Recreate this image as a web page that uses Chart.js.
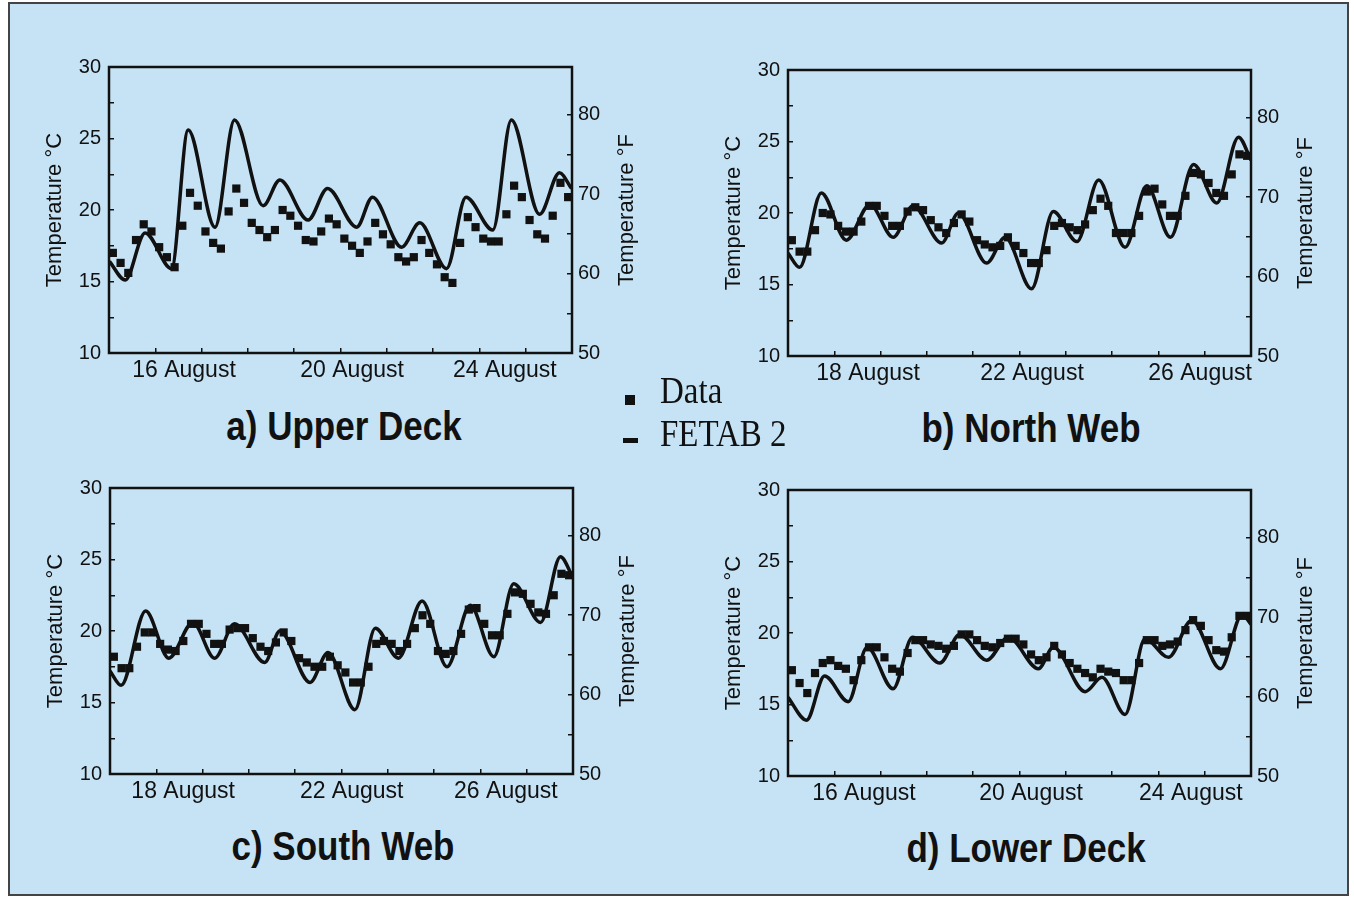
<!DOCTYPE html>
<html>
<head>
<meta charset="utf-8">
<title>FETAB 2 temperatures</title>
<script src="https://cdn.jsdelivr.net/npm/chart.js@4.4.1/dist/chart.umd.min.js"></script>
<style>
  body { margin: 0; width: 1354px; height: 900px; overflow: hidden; background: #fff;
         font-family: "Liberation Sans", Arial, sans-serif; }
  #frame { position: absolute; left: 8px; top: 2px; width: 1337px; height: 890px;
           background: #c6e3f5; border: 2px solid #444; }
  canvas { position: absolute; }
  .title { position: absolute; font-weight: bold; font-size: 35px; line-height: 40px;
           color: #111; white-space: nowrap; transform-origin: 50% 80%;
           transform: translateX(-50%) scaleY(1.18); }
  .leg { position: absolute; font-family: "Liberation Serif", "Times New Roman", serif;
         font-size: 33px; line-height: 34px; color: #111; white-space: nowrap;
         transform-origin: 0 80%; transform: scaleY(1.15); }
  .mark { position: absolute; background: #111; }
</style>
</head>
<body>
<div id="frame"></div>

<canvas id="upper" width="640" height="360" style="left:20px;top:40px"></canvas>
<canvas id="north" width="640" height="360" style="left:699px;top:43px"></canvas>
<canvas id="south" width="640" height="360" style="left:21px;top:461px"></canvas>
<canvas id="lower" width="640" height="360" style="left:699px;top:463px"></canvas>

<div class="title" style="left:344px;top:408px">a) Upper Deck</div>
<div class="title" style="left:1031px;top:410px">b) North Web</div>
<div class="title" style="left:343px;top:828px">c) South Web</div>
<div class="title" style="left:1026px;top:830px">d) Lower Deck</div>

<div class="mark" style="left:625px;top:395px;width:10px;height:10px"></div>
<div class="leg" style="left:660px;top:375px">Data</div>
<div class="mark" style="left:623px;top:438px;width:15px;height:5px"></div>
<div class="leg" style="left:660px;top:418px">FETAB 2</div>

<script>
// measured temperatures (deg C), one reading every 4 hours
var upperData = [17.0,16.3,15.6,17.9,19.0,18.5,17.4,16.7,16.0,18.9,21.2,20.3,18.5,17.7,17.3,19.9,21.5,20.5,19.1,18.6,
  18.1,18.6,20.0,19.6,18.9,17.9,17.8,18.5,19.4,19.0,18.0,17.5,17.0,17.8,19.1,18.3,17.6,16.7,16.4,16.7,
  17.9,17.0,16.2,15.3,14.9,17.7,19.5,18.8,18.0,17.8,17.8,19.7,21.7,20.9,19.3,18.3,18.0,19.6,21.9,20.9];
var northData = [18.1,17.3,17.3,18.8,20.0,19.9,19.1,18.7,18.7,19.4,20.5,20.5,19.8,19.1,19.1,20.1,20.4,20.2,19.5,19.0,
  18.6,19.3,19.9,19.4,18.1,17.8,17.6,17.7,18.3,17.7,17.2,16.5,16.5,17.4,19.1,19.3,19.0,18.8,19.2,20.2,
  21.0,20.5,18.6,18.6,18.6,19.8,21.5,21.7,20.6,19.8,19.8,21.2,22.8,22.7,22.1,21.4,21.2,22.7,24.1,24.0];
var southData = [18.2,17.4,17.4,18.9,19.9,19.9,19.1,18.7,18.6,19.3,20.5,20.5,19.8,19.1,19.1,20.1,20.2,20.2,19.5,18.9,
  18.6,19.2,19.9,19.3,18.1,17.8,17.5,17.5,18.2,17.6,17.1,16.4,16.4,17.5,19.1,19.3,19.1,18.6,19.1,20.2,
  21.1,20.5,18.6,18.4,18.6,19.8,21.5,21.6,20.5,19.7,19.7,21.2,22.7,22.6,21.9,21.3,21.2,22.5,24.0,23.9];
var lowerData = [17.4,16.5,15.8,17.2,17.9,18.1,17.7,17.5,16.7,18.1,19.0,19.0,18.3,17.5,17.3,18.6,19.5,19.5,19.2,19.1,
  18.9,19.1,19.9,19.9,19.5,19.1,19.0,19.3,19.6,19.6,19.2,18.5,18.1,18.3,19.1,18.5,17.9,17.5,17.2,16.9,
  17.5,17.3,17.2,16.7,16.7,17.9,19.5,19.5,19.1,19.2,19.4,20.2,20.9,20.5,19.5,18.8,18.7,19.7,21.2,21.2];

// FETAB 2 model curve: day of August, deg C
var upperFetabDays  = [15.01,15.35,15.78,16.35,16.71,17.29,17.71,18.33,18.69,19.30,19.72,20.35,20.69,21.32,21.71,22.29,22.71,23.29,23.69,24.30,24.73,24.99];
var upperFetabTemps = [16.4,15.1,18.4,15.9,25.6,18.8,26.3,20.3,22.1,19.3,21.5,18.8,20.9,17.4,19.1,15.9,20.9,18.6,26.3,19.7,22.6,21.5];
var northFetabDays  = [17.0,17.25,17.72,18.26,18.77,19.27,19.70,20.32,20.68,21.29,21.69,22.26,22.73,23.24,23.71,24.28,24.75,25.26,25.76,26.26,26.73,27.0];
var northFetabTemps = [17.2,16.2,21.4,18.1,20.6,18.3,20.5,17.9,20.0,16.5,18.3,14.7,20.1,18.0,22.3,17.6,21.9,18.3,23.4,20.7,25.3,23.7];
var southFetabDays  = [17.0,17.24,17.77,18.27,18.79,19.26,19.69,20.34,20.67,21.32,21.71,22.29,22.73,23.23,23.74,24.28,24.78,25.29,25.72,26.30,26.73,26.99];
var southFetabTemps = [17.2,16.2,21.4,18.1,20.6,18.1,20.5,17.8,20.0,16.4,18.5,14.5,20.2,18.1,22.1,17.5,21.8,18.2,23.3,20.6,25.2,23.8];
var lowerFetabDays  = [15.0,15.40,15.79,16.30,16.71,17.27,17.69,18.28,18.71,19.29,19.76,20.41,20.73,21.42,21.78,22.28,22.71,23.22,23.72,24.34,24.81,25.0];
var lowerFetabTemps = [15.5,13.9,17.0,15.2,19.0,16.1,19.7,17.9,19.9,18.1,19.7,17.5,19.0,15.9,16.9,14.3,19.6,18.3,20.9,17.5,21.3,20.6];

// x axis date labels and where they sit
var upperLabels = ["16 August", "20 August", "24 August"];
var upperLabelDays = [16.62, 20.25, 23.55];
var webLabels = ["18 August", "22 August", "26 August"];
var northLabelDays = [18.73, 22.27, 25.9];
var southLabelDays = [18.58, 22.22, 25.55];
var lowerLabelDays = [16.64, 20.25, 23.7];

var ink = "#111";
var sans = '"Liberation Sans", Arial, sans-serif';

var boxFrame = {
  id: "boxFrame",
  afterDatasetsDraw: function(chart) {
    var a = chart.chartArea, ctx = chart.ctx;
    ctx.save();
    ctx.strokeStyle = ink;
    ctx.lineWidth = 2.5;
    ctx.strokeRect(a.left, a.top, a.right - a.left, a.bottom - a.top);
    ctx.restore();
  }
};

// right hand title reads bottom to top like the left one
var fTitle = {
  id: "fTitle",
  afterDraw: function(chart) {
    var s = chart.scales.yF, ctx = chart.ctx;
    ctx.save();
    ctx.translate(s.right - 33, (s.top + s.bottom) / 2);
    ctx.rotate(-Math.PI / 2);
    ctx.font = "22px " + sans;
    ctx.fillStyle = ink;
    ctx.textAlign = "center";
    ctx.textBaseline = "middle";
    ctx.fillText("Temperature \u00b0F", 0, 0);
    ctx.restore();
  }
};

function makePanel(id, start, data, fDays, fTemps, labels, labelDays) {
  var pts = data.map(function(t, i) { return {x: start + (i + 0.5) / 6, y: t}; });
  var curve = fDays.map(function(d, i) { return {x: d, y: fTemps[i]}; });
  var inTicks = {drawOnChartArea: false, drawTicks: true, tickLength: -5, color: ink, lineWidth: 1.5};

  new Chart(document.getElementById(id), {
    type: "scatter",
    data: {
      datasets: [
        {label: "Data", data: pts, pointStyle: "rect", pointRadius: 5.8, backgroundColor: ink, borderWidth: 0, showLine: false},
        {label: "FETAB 2", data: curve, showLine: true, pointRadius: 0, borderColor: ink, borderWidth: 3.5,
         cubicInterpolationMode: "monotone", fill: false}
      ]
    },
    options: {
      responsive: false,
      animation: false,
      layout: {padding: {top: 27, left: 0, right: 0, bottom: 0}},
      plugins: {legend: {display: false}, tooltip: {enabled: false}},
      scales: {
        x: {
          type: "linear", position: "bottom", min: start, max: start + 10,
          grid: inTicks, border: {display: false},
          ticks: {stepSize: 1, callback: function() { return ""; }},
          afterFit: function(s) { s.height = 0; }
        },
        xl: {
          type: "linear", position: "bottom", min: start, max: start + 10,
          grid: {display: false, drawTicks: false}, border: {display: false},
          afterBuildTicks: function(s) { s.ticks = labelDays.map(function(v) { return {value: v}; }); },
          ticks: {autoSkip: false, maxRotation: 0, padding: 4, color: ink, font: {family: sans, size: 23},
                  callback: function(v, i) { return labels[i]; }},
          afterFit: function(s) { s.height = 47; }
        },
        y: {
          position: "left", min: 10, max: 30,
          grid: inTicks, border: {display: false},
          ticks: {stepSize: 2.5, padding: 13, color: ink, font: {family: sans, size: 20},
                  callback: function(v) { return v % 5 === 0 ? v : ""; }},
          title: {display: true, text: "Temperature \u00b0C", color: ink, font: {family: sans, size: 22},
                  padding: {top: 22, bottom: 0}},
          afterFit: function(s) { s.width = 89; }
        },
        yF: {
          position: "right", min: 50, max: 86,
          grid: inTicks, border: {display: false},
          ticks: {stepSize: 5, padding: 11, color: ink, font: {family: sans, size: 20},
                  callback: function(v) { return v % 10 === 0 ? v : ""; }},
          afterFit: function(s) { s.width = 88; }
        }
      }
    },
    plugins: [boxFrame, fTitle]
  });
}

makePanel("upper", 15, upperData, upperFetabDays, upperFetabTemps, upperLabels, upperLabelDays);
makePanel("north", 17, northData, northFetabDays, northFetabTemps, webLabels, northLabelDays);
makePanel("south", 17, southData, southFetabDays, southFetabTemps, webLabels, southLabelDays);
makePanel("lower", 15, lowerData, lowerFetabDays, lowerFetabTemps, upperLabels, lowerLabelDays);
</script>
</body>
</html>
